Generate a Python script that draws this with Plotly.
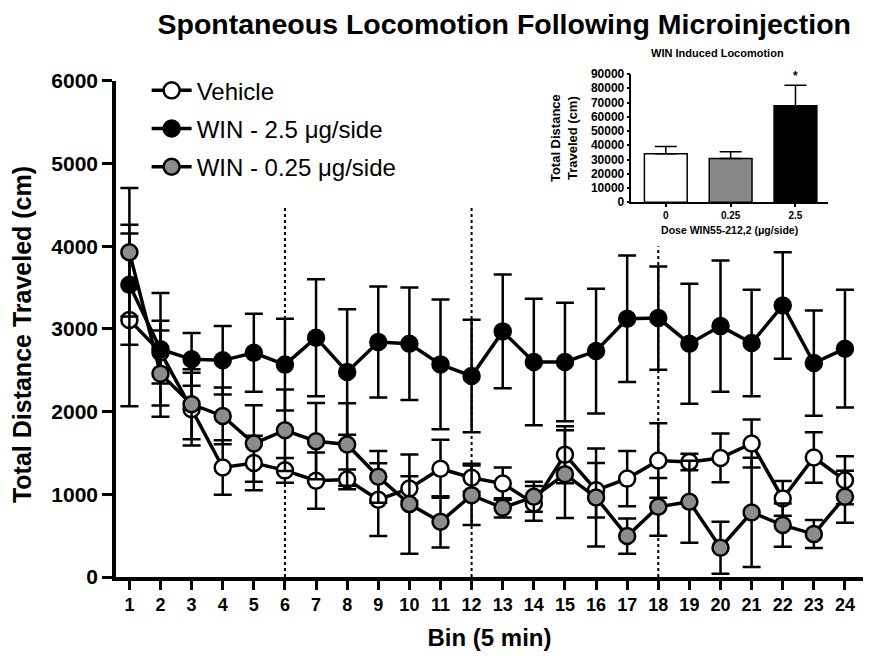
import plotly.graph_objects as go

bins = list(range(1, 25))
vehicle = [3110, 2720, 2030, 1325, 1380, 1290, 1165, 1180, 935, 1070, 1310, 1200,
           1130, 890, 1480, 1050, 1190, 1410, 1390, 1440, 1615, 950, 1445, 1170]
vehicle_err = [1045, 380, 440, 330, 330, 150, 340, 120, 440, 150, 350, 170,
               195, 210, 345, 330, 335, 450, 100, 295, 290, 210, 305, 290]
win25 = [3535, 2755, 2633, 2621, 2713, 2569, 2895, 2480, 2842, 2822, 2572, 2431,
         2971, 2601, 2601, 2733, 3124, 3132, 2822, 3035, 2830, 3285, 2588, 2762]
win25_err = [725, 680, 320, 414, 471, 555, 708, 760, 672, 680, 785, 681,
             688, 765, 717, 754, 765, 624, 725, 794, 645, 644, 637, 713]
win025 = [3929, 2460, 2089, 1948, 1614, 1775, 1643, 1603, 1212, 882, 668, 990,
          837, 970, 1244, 962, 495, 849, 910, 354, 781, 628, 519, 970]
win025_err = [777, 523, 423, 343, 463, 492, 462, 500, 313, 600, 310, 360,
              116, 181, 531, 592, 214, 350, 496, 314, 660, 262, 169, 314]

y_ticks = [0, 1000, 2000, 3000, 4000, 5000, 6000]

divider_bins = [6, 12, 18]
divider_tops = [4500, 4500, 4000]

doses = ["0", "0.25", "2.5"]
dose_means = [34000, 30800, 67700]
dose_errs = [5200, 4600, 14500]
dose_colors = ["white", "#888888", "black"]
inset_ticks = list(range(0, 90001, 10000))

FONT = "Liberation Sans, Arial, sans-serif"

fig = go.Figure()

def add_series(name, y, err, fill):
    fig.add_trace(go.Scatter(
        x=bins, y=y, name=name, mode="lines+markers",
        line=dict(color="black", width=3.5),
        marker=dict(symbol="circle", size=16, color=fill,
                    line=dict(color="black", width=2.5)),
        error_y=dict(type="data", array=err, visible=True, color="black",
                     thickness=2.5, width=9),
        legendgroup=name,
    ))

add_series("Vehicle", vehicle, vehicle_err, "white")
add_series("WIN - 2.5 μg/side", win25, win25_err, "black")
add_series("WIN - 0.25 μg/side", win025, win025_err, "#8c8c8c")

for b, top in zip(divider_bins, divider_tops):
    fig.add_shape(type="line", xref="x", yref="y", x0=b, x1=b, y0=0, y1=top,
                  line=dict(color="black", width=2, dash="dot"), layer="below")

fig.add_trace(go.Bar(
    x=doses, y=dose_means, xaxis="x2", yaxis="y2", showlegend=False,
    marker=dict(color=dose_colors, line=dict(color="black", width=1.5)),
    width=0.66,
    error_y=dict(type="data", array=dose_errs, arrayminus=[0, 0, 0],
                 symmetric=False, visible=True, color="black",
                 thickness=1.5, width=11),
))

fig.add_annotation(xref="x2", yref="y2", x=2,
                   y=dose_means[2] + dose_errs[2], text="<b>*</b>",
                   showarrow=False, yanchor="bottom", yshift=0,
                   font=dict(family=FONT, size=12, color="black"))

fig.update_layout(
    width=863, height=652,
    margin=dict(l=108, r=8, t=52, b=83, autoexpand=False),
    paper_bgcolor="white", plot_bgcolor="white",
    font=dict(family=FONT, color="black"),
    title=dict(text="<b>Spontaneous Locomotion Following Microinjection</b>",
               x=0.575, xanchor="center", y=0.99, yanchor="top",
               pad=dict(t=0, b=0),
               font=dict(family=FONT, size=28.5, color="black")),
    showlegend=True,
    legend=dict(x=0.041, y=0.984, xanchor="left", yanchor="top",
                font=dict(family=FONT, size=24, color="black"),
                bgcolor="rgba(0,0,0,0)", tracegroupgap=4,
                itemwidth=40),
    xaxis=dict(range=[0.57, 24.58], domain=[0, 1], automargin=False,
               tickmode="array", tickvals=bins, ticktext=[str(b) for b in bins],
               ticks="outside", ticklen=9, tickwidth=3, tickcolor="black",
               showline=True, linecolor="black", linewidth=3.5,
               showgrid=False, zeroline=False,
               tickfont=dict(family=FONT, size=18, color="black", weight="bold"),
               title=dict(text="<b>Bin (5 min)</b>", standoff=16,
                          font=dict(family=FONT, size=24, color="black"))),
    yaxis=dict(range=[0, 6000], domain=[0, 0.9594], automargin=False,
               tickmode="array", tickvals=y_ticks,
               ticks="outside", ticklen=10, tickwidth=3, tickcolor="black",
               showline=True, linecolor="black", linewidth=3.5,
               showgrid=False, zeroline=False,
               tickfont=dict(family=FONT, size=21, color="black", weight="bold")),
    xaxis2=dict(domain=[0.690, 0.953], anchor="y2", type="category",
                range=[-0.53, 2.5], automargin=False,
                ticks="outside", ticklen=3, tickwidth=1.5, tickcolor="black",
                showline=True, linecolor="black", linewidth=1.5,
                showgrid=False, zeroline=False,
                tickfont=dict(family=FONT, size=10, color="black", weight="bold"),
                title=dict(text="<b>Dose WIN55-212,2 (μg/side)</b>", standoff=7,
                           font=dict(family=FONT, size=10.5, color="black"))),
    yaxis2=dict(domain=[0.7248, 0.9729], anchor="x2", range=[0, 90000],
                automargin=False,
                tickmode="array", tickvals=inset_ticks,
                ticktext=[str(v) for v in inset_ticks],
                ticks="outside", ticklen=3, tickwidth=1.5, tickcolor="black",
                showline=True, linecolor="black", linewidth=1.5,
                showgrid=False, zeroline=False,
                tickfont=dict(family=FONT, size=12, color="black", weight="bold"),
                title=dict(text="<b>Total Distance<br>Traveled (cm)</b>", standoff=10,
                           font=dict(family=FONT, size=13, color="black"))),
)

fig.add_annotation(xref="paper", yref="paper", x=-0.1258, y=0.468,
                   text="<b>Total Distance Traveled (cm)</b>", textangle=-90,
                   showarrow=False, xanchor="center", yanchor="middle",
                   font=dict(family=FONT, size=25, color="black"))

fig.add_annotation(xref="x2 domain", yref="y2 domain", x=0.44, y=1.1,
                   text="<b>WIN Induced Locomotion</b>", showarrow=False,
                   xanchor="center", yanchor="bottom",
                   font=dict(family=FONT, size=11, color="black"))

fig.write_html("out.html")
